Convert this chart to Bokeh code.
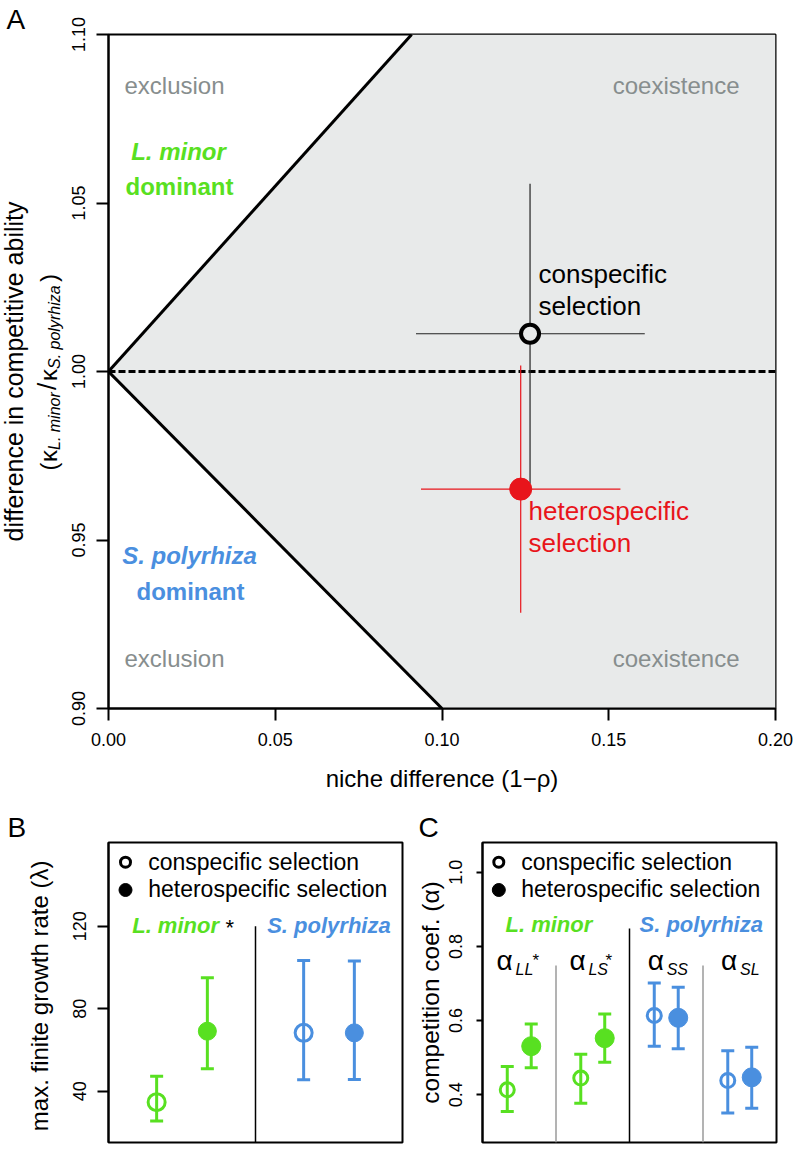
import math
from bokeh.plotting import figure
from bokeh.models import (Range1d, FixedTicker, NumeralTickFormatter, Label, Whisker,
                          TeeHead, ColumnDataSource, Title)
from bokeh.layouts import column, row
from bokeh.embed import file_html
from bokeh.resources import INLINE

FONT = "Liberation Sans"
GREEN = "#58e021"
BLUE = "#4a8fdf"
RED = "#e8151b"
GRAYTXT = "#878e8e"
FILL = "#e8eaea"
R90 = math.pi / 2
SHIFT = 0.35  # baseline correction (fraction of font size)

# ---------------- data ----------------
# Panel A: coexistence boundaries and selection-line estimates
nd_upper = [0.0, 0.0909]
cr_upper = [1.0, 1.10]
nd_lower = [0.0, 0.10]
cr_lower = [1.0, 0.90]
selection = ["conspecific", "heterospecific"]
niche_diff = [0.1264, 0.1236]
niche_lo = [0.0922, 0.0937]
niche_hi = [0.1608, 0.1535]
comp_ratio = [1.0112, 0.9651]
comp_lo = [0.9667, 0.9284]
comp_hi = [1.0557, 1.0018]
A_xticks = [0.0, 0.05, 0.10, 0.15, 0.20]
A_yticks = [0.90, 0.95, 1.00, 1.05, 1.10]

# Panel B: max. finite growth rate
species = ["L. minor", "S. polyrhiza"]
growth_cons = [34.7, 68.3]
growth_cons_lo = [25.5, 45.5]
growth_cons_hi = [47.3, 103.4]
growth_het = [69.1, 68.3]
growth_het_lo = [50.9, 45.7]
growth_het_hi = [95.0, 103.1]
B_yticks = [40, 80, 120]

# Panel C: competition coefficients
coefs = ["LL", "LS", "SS", "SL"]
coef_star = ["*", "*", "", ""]
alpha_cons = [0.4135, 0.445, 0.614, 0.4385]
alpha_cons_lo = [0.355, 0.377, 0.531, 0.351]
alpha_cons_hi = [0.476, 0.509, 0.701, 0.519]
alpha_het = [0.531, 0.5526, 0.6075, 0.447]
alpha_het_lo = [0.473, 0.488, 0.524, 0.364]
alpha_het_hi = [0.591, 0.618, 0.690, 0.528]
C_yticks = [0.4, 0.6, 0.8, 1.0]


def style(p, tick_out, standoff):
    p.outline_line_color = "black"
    p.outline_line_width = 2
    p.outline_line_alpha = 1.0
    p.xgrid.visible = False
    p.ygrid.visible = False
    p.background_fill_color = "white"
    p.border_fill_color = "white"
    for ax in p.axis:
        ax.axis_line_width = 2
        ax.axis_line_color = "black"
        ax.major_tick_line_width = 2
        ax.major_tick_line_color = "black"
        ax.major_tick_out = tick_out
        ax.major_tick_in = 0
        ax.minor_tick_line_color = None
        ax.major_label_text_font = FONT
        ax.major_label_text_font_size = "18px"
        ax.major_label_text_color = "black"
        ax.major_label_standoff = standoff


def make_label(p, fx, fy):
    def lab(px, py, text, size, color="black", style="normal", align="left", angle=0.0):
        xo, yo = (0.0, SHIFT * size) if angle == 0.0 else (-SHIFT * size, 0.0)
        p.add_layout(Label(x=fx(px), y=fy(py), text=text, text_font=FONT,
                           text_font_size=f"{size}px", text_color=color,
                           text_font_style=style, text_align=align,
                           text_baseline="alphabetic", angle=angle,
                           x_offset=xo, y_offset=yo))
    return lab


def gutter(w, h, x0, top, bottom, border_top, letter, letter_offset):
    # text-only strip; its frame is aligned with the neighbouring plot frame,
    # and its data coordinates are page pixels
    g = figure(width=w, height=h, x_range=Range1d(x0, x0 + w), y_range=Range1d(bottom, top),
               x_axis_location=None, y_axis_location=None, toolbar_location=None,
               output_backend="svg", title=None,
               min_border_left=0, min_border_right=0,
               min_border_top=border_top, min_border_bottom=h - border_top - (bottom - top))
    g.outline_line_color = None
    g.xgrid.visible = False
    g.ygrid.visible = False
    g.background_fill_color = "white"
    g.border_fill_color = "white"
    g.add_layout(Title(text=letter, align="left", offset=letter_offset, standoff=0,
                       text_font=FONT, text_font_size="28px", text_font_style="normal",
                       text_color="black"), "above")
    return g, make_label(g, lambda v: v, lambda v: v)


# ---------------- Panel A ----------------
gA, labGA = gutter(66, 798, 0, 34, 708, 34, "A", 6)
pA = figure(width=730, height=798, output_backend="svg", toolbar_location=None,
            x_range=Range1d(0, 0.2), y_range=Range1d(0.9, 1.1), title=None,
            min_border_left=42, min_border_right=21, min_border_top=34, min_border_bottom=90)
style(pA, 12, 12)
pA.xaxis.ticker = FixedTicker(ticks=A_xticks)
pA.yaxis.ticker = FixedTicker(ticks=A_yticks)
pA.xaxis.formatter = NumeralTickFormatter(format="0.00")
pA.yaxis.formatter = NumeralTickFormatter(format="0.00")
pA.yaxis.major_label_orientation = "vertical"
pA.yaxis.major_label_standoff = 12
pA.xaxis.axis_label = "niche difference (1\u2212\u03c1)"
pA.xaxis.axis_label_text_font = FONT
pA.xaxis.axis_label_text_font_size = "24px"
pA.xaxis.axis_label_text_font_style = "normal"
pA.xaxis.axis_label_text_color = "black"
pA.xaxis.axis_label_standoff = 16

# page px -> data for A (frame x 108..775, y 34..708)
axA = lambda px: (px - 108) / 667 * 0.2
ayA = lambda py: 0.9 + (708 - py) / 674 * 0.2

poly_x = [nd_upper[0], nd_upper[1], 0.2, 0.2, nd_lower[1]]
poly_y = [cr_upper[0], cr_upper[1], 1.1, 0.9, cr_lower[1]]
pA.patch(poly_x, poly_y, fill_color=FILL, line_color=None)
pA.line([0.0, 0.2], [1.0, 1.0], line_color="black", line_width=3, line_dash="7 3")
pA.line(nd_upper, cr_upper, line_color="black", line_width=3)
pA.line(nd_lower, cr_lower, line_color="black", line_width=3)

colsA = ["#222222", RED]
pA.segment(x0=niche_lo, x1=niche_hi, y0=comp_ratio, y1=comp_ratio, line_color=colsA, line_width=1.2)
pA.segment(x0=niche_diff, x1=niche_diff, y0=comp_lo, y1=comp_hi, line_color=colsA, line_width=1.2)
pA.scatter([niche_diff[0]], [comp_ratio[0]], marker="circle", size=18, fill_color=FILL,
           line_color="black", line_width=4)
pA.scatter([niche_diff[1]], [comp_ratio[1]], marker="circle", size=22, fill_color=RED,
           line_color=RED, line_width=1)

labA = make_label(pA, axA, ayA)
labA(124, 93, "exclusion", 24, GRAYTXT)
labA(739, 93, "coexistence", 24, GRAYTXT, align="right")
labA(124, 666, "exclusion", 24, GRAYTXT)
labA(739, 666, "coexistence", 24, GRAYTXT, align="right")
labA(178, 159, "L. minor", 24, GREEN, "bold italic", "center")
labA(179, 194, "dominant", 24, GREEN, "bold", "center")
labA(189, 563, "S. polyrhiza", 24, BLUE, "bold italic", "center")
labA(190, 599, "dominant", 24, BLUE, "bold", "center")
labA(538, 283, "conspecific", 26)
labA(538, 315, "selection", 26)
labA(528, 520, "heterospecific", 26, RED)
labA(528, 552, "selection", 26, RED)

labGA(22, 371, "difference in competitive ability", 25, align="center", angle=R90)
# second y-label line built from pieces (reading bottom to top)
labGA(56, 470.0, "(", 24, angle=R90)
labGA(56, 461.5, "\u03ba", 24, angle=R90)
labGA(60, 449.5, "L. minor", 16, style="italic", angle=R90)
labGA(56, 389.5, "/", 26, angle=R90)
labGA(56, 380.5, "\u03ba", 24, angle=R90)
labGA(60, 368.5, "S. polyrhiza", 16, style="italic", angle=R90)
labGA(56, 281.5, ")", 24, angle=R90)

# ---------------- Panel B ----------------
gB, labGB = gutter(68, 350, 0, 842, 1142, 44, "B", 7)
B_lo, B_hi = 15.13, 160.6
pB = figure(width=336, height=350, output_backend="svg", toolbar_location=None,
            x_range=Range1d(0.5, 2.5), y_range=Range1d(B_lo, B_hi), title=None,
            x_axis_location=None,
            min_border_left=40, min_border_right=2, min_border_top=44, min_border_bottom=6)
style(pB, 11, 11)
pB.yaxis.ticker = FixedTicker(ticks=B_yticks)
pB.yaxis.major_label_orientation = "vertical"

axB = lambda px: 0.5 + (px - 108) / 294 * 2
ayB = lambda py: B_lo + (1142 - py) / 300 * (B_hi - B_lo)

offB = 0.1725
grpB = [1, 2]
colsB = [GREEN, BLUE]
xb_cons = [g - offB for g in grpB]
xb_het = [g + offB for g in grpB]
pB.segment(x0=[1.5], x1=[1.5], y0=[B_lo], y1=[B_yticks[-1]], line_color="black", line_width=1.5)
for i in range(2):
    for xs, lo, hi in ((xb_cons, growth_cons_lo, growth_cons_hi),
                       (xb_het, growth_het_lo, growth_het_hi)):
        src = ColumnDataSource(dict(x=[xs[i]], lo=[lo[i]], hi=[hi[i]]))
        pB.add_layout(Whisker(source=src, base="x", lower="lo", upper="hi", dimension="height",
                              line_color=colsB[i], line_width=3,
                              upper_head=TeeHead(size=13, line_color=colsB[i], line_width=3),
                              lower_head=TeeHead(size=13, line_color=colsB[i], line_width=3)))
    pB.scatter([xb_cons[i]], [growth_cons[i]], marker="circle", size=17, fill_color=None,
               line_color=colsB[i], line_width=3)
    pB.scatter([xb_het[i]], [growth_het[i]], marker="circle", size=18, fill_color=colsB[i],
               line_color=colsB[i], line_width=1)

pB.scatter([axB(125)], [ayB(861.7)], marker="circle", size=10, fill_color=None, line_color="black", line_width=3)
pB.scatter([axB(125)], [ayB(889.5)], marker="circle", size=13, fill_color="black", line_color="black")
labB = make_label(pB, axB, ayB)
labB(147.7, 870, "conspecific selection", 23)
labB(147.7, 897, "heterospecific selection", 23)
labB(131.7, 933, species[0], 22, GREEN, "bold italic")
labB(225, 935, "*", 22)
labB(266.7, 933, species[1], 22, BLUE, "bold italic")

labGB(47, 992, "max. finite growth rate  (\u03bb)", 24, align="center", angle=R90)

# ---------------- Panel C ----------------
gC, labGC = gutter(41, 350, 404, 842, 1142, 44, "C", 14)
C_lo, C_hi = 0.2714, 1.080
pC = figure(width=351, height=350, output_backend="svg", toolbar_location=None,
            x_range=Range1d(0.5, 4.5), y_range=Range1d(C_lo, C_hi), title=None,
            x_axis_location=None,
            min_border_left=37, min_border_right=20, min_border_top=44, min_border_bottom=6)
style(pC, 6, 14)
pC.yaxis.ticker = FixedTicker(ticks=C_yticks)
pC.yaxis.formatter = NumeralTickFormatter(format="0.0")
pC.yaxis.major_label_orientation = "vertical"

axC = lambda px: 0.5 + (px - 482) / 294 * 4
ayC = lambda py: C_lo + (1142 - py) / 300 * (C_hi - C_lo)

offC = 0.163
grpC = [1, 2, 3, 4]
colsC = [GREEN, GREEN, BLUE, BLUE]
pC.segment(x0=[1.5, 3.5], x1=[1.5, 3.5], y0=[C_lo, C_lo], y1=[ayC(965), ayC(965)],
           line_color="#9a9a9a", line_width=1.5)
pC.segment(x0=[2.5], x1=[2.5], y0=[C_lo], y1=[ayC(928)], line_color="black", line_width=1.5)
xc_cons = [g - offC for g in grpC]
xc_het = [g + offC for g in grpC]
for i in range(4):
    for xs, lo, hi in ((xc_cons, alpha_cons_lo, alpha_cons_hi), (xc_het, alpha_het_lo, alpha_het_hi)):
        src = ColumnDataSource(dict(x=[xs[i]], lo=[lo[i]], hi=[hi[i]]))
        pC.add_layout(Whisker(source=src, base="x", lower="lo", upper="hi", dimension="height",
                              line_color=colsC[i], line_width=3,
                              upper_head=TeeHead(size=13, line_color=colsC[i], line_width=3),
                              lower_head=TeeHead(size=13, line_color=colsC[i], line_width=3)))
    pC.scatter([xc_cons[i]], [alpha_cons[i]], marker="circle", size=14, fill_color=None,
               line_color=colsC[i], line_width=3)
    pC.scatter([xc_het[i]], [alpha_het[i]], marker="circle", size=19, fill_color=colsC[i],
               line_color=colsC[i], line_width=1)

pC.scatter([axC(498.3)], [ayC(861.7)], marker="circle", size=10, fill_color=None, line_color="black", line_width=3)
pC.scatter([axC(498.3)], [ayC(889.5)], marker="circle", size=13, fill_color="black", line_color="black")
labC = make_label(pC, axC, ayC)
labC(520.7, 870, "conspecific selection", 23)
labC(520.7, 897, "heterospecific selection", 23)
labC(505, 932, species[0], 22, GREEN, "bold italic")
labC(639, 932, species[1], 22, BLUE, "bold italic")
alpha_left = [-23.7, -24.3, -19.6, -19.7]
for i, c in enumerate(coefs):
    gc = 482 + (grpC[i] - 0.5) * 73.5
    a0 = gc + alpha_left[i]
    labC(a0 + 1, 970, "\u03b1", 28)
    labC(a0 + 20, 975, c, 16, style="italic")
    if coef_star[i]:
        labC(a0 + 37, 966, coef_star[i], 17)

labGC(439, 992, "competition coef. (\u03b1)", 24.5, align="center", angle=R90)

layout = column(row(gA, pA, spacing=0), row(gB, pB, gC, pC, spacing=0), spacing=0)
open("out.html", "w").write(file_html(layout, INLINE))
